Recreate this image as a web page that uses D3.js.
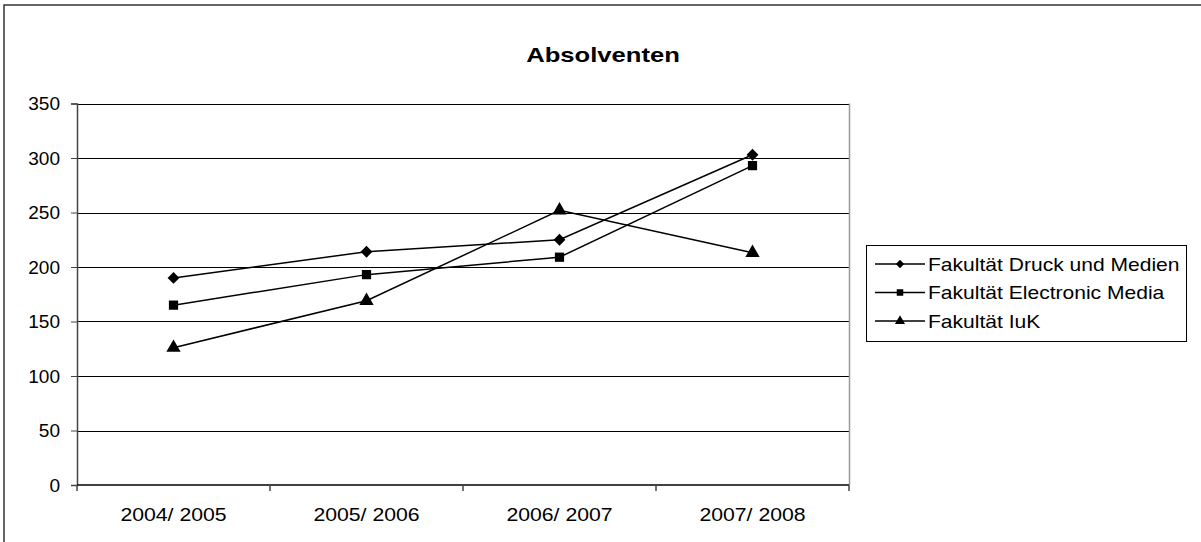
<!DOCTYPE html>
<html>
<head>
<meta charset="utf-8">
<script src="https://cdn.jsdelivr.net/npm/d3@7"></script>
<style>
  body { margin: 0; background: #fff; }
  svg text { font-family: "Liberation Sans", Arial, sans-serif; fill: #000; }
</style>
</head>
<body>
<div id="chart"></div>
<script>
const categories = ["2004/ 2005", "2005/ 2006", "2006/ 2007", "2007/ 2008"];
const seriesNames = ["Fakultät Druck und Medien", "Fakultät Electronic Media", "Fakultät IuK"];
const druck = [190, 214, 225, 303];
const electronic = [165, 193, 209, 293];
const iuk = [126, 169, 252, 213];
const yTicks = [0, 50, 100, 150, 200, 250, 300, 350];

// diamond drawn as a square turned by 45 degrees
const series = [
    { name: seriesNames[0], values: druck, symbol: d3.symbolSquare, size: 70, rot: 45 },
    { name: seriesNames[1], values: electronic, symbol: d3.symbolSquare, size: 85, rot: 0 },
    { name: seriesNames[2], values: iuk, symbol: d3.symbolTriangle, size: 88, rot: 0 }
];

const width = 1201,
    height = 542;
const plot = { left: 77, right: 849, top: 103.5, bottom: 485 };

const svg = d3.select('#chart').append('svg')
    .attr('width', width)
    .attr('height', height);

// outer frame
svg.append('rect')
    .attr('x', 4).attr('y', 5)
    .attr('width', 1200).attr('height', 545)
    .attr('fill', 'none')
    .attr('stroke', '#333')
    .attr('stroke-width', 1.5);

const x = d3.scaleBand()
    .domain(categories)
    .range([plot.left, plot.right]);

const y = d3.scaleLinear()
    .domain([0, 350])
    .range([plot.bottom, plot.top]);

// text in the picture is drawn wider than normal
function wideText(sel, px, py, sx) {
    return sel.append('text')
        .attr('transform', 'translate(' + px + ',' + py + ') scale(' + sx + ',1)');
}

// title
wideText(svg, 603, 62, 1.25)
    .attr('text-anchor', 'middle')
    .style('font-size', '20.5px')
    .style('font-weight', 'bold')
    .text('Absolventen');

// grid lines
svg.append('g')
    .selectAll('line')
    .data(yTicks.filter(d => d > 0))
    .enter()
    .append('line')
    .attr('x1', plot.left)
    .attr('x2', plot.right)
    .attr('y1', d => Math.round(y(d)) + 0.5)
    .attr('y2', d => Math.round(y(d)) + 0.5)
    .attr('stroke', '#000')
    .attr('stroke-width', 1);

// right border of plot area
svg.append('line')
    .attr('x1', plot.right + 0.5).attr('x2', plot.right + 0.5)
    .attr('y1', plot.top).attr('y2', plot.bottom)
    .attr('stroke', '#999')
    .attr('stroke-width', 1.5);

// y axis
let yAxis = svg.append('g')
    .attr('transform', 'translate(' + plot.left + ',0)')
    .call(d3.axisLeft(y).tickValues(yTicks).tickSize(6).tickFormat(''));
yAxis.select('.domain').attr('stroke', '#444').attr('stroke-width', 1.5);
yAxis.selectAll('.tick line').attr('stroke', '#444');
yTicks.forEach(t => {
    wideText(svg, 60, y(t) + 6.5, 1.06)
        .attr('text-anchor', 'end')
        .style('font-size', '18px')
        .text(t);
});

// x axis with ticks between categories
let xAxis = svg.append('g')
    .attr('transform', 'translate(0,' + plot.bottom + ')');
xAxis.append('line')
    .attr('x1', plot.left).attr('x2', plot.right)
    .attr('stroke', '#000').attr('stroke-width', 1.5);
xAxis.selectAll('line.tk')
    .data(categories.concat(['end']))
    .enter()
    .append('line')
    .attr('class', 'tk')
    .attr('x1', (d, i) => plot.left + i * x.bandwidth())
    .attr('x2', (d, i) => plot.left + i * x.bandwidth())
    .attr('y1', 0).attr('y2', 6)
    .attr('stroke', '#444').attr('stroke-width', 1.5);
categories.forEach(c => {
    wideText(xAxis, x(c) + x.bandwidth() / 2, 35.5, 1.18)
        .attr('text-anchor', 'middle')
        .style('font-size', '18px')
        .text(c);
});

// lines
const line = d3.line()
    .x((d, i) => x(categories[i]) + x.bandwidth() / 2)
    .y(d => y(d));

svg.append('g')
    .selectAll('path')
    .data(series)
    .enter()
    .append('path')
    .attr('d', s => line(s.values))
    .attr('fill', 'none')
    .attr('stroke', '#000')
    .attr('stroke-width', 1.5);

// markers
series.forEach(s => {
    svg.append('g')
        .selectAll('path')
        .data(s.values)
        .enter()
        .append('path')
        .attr('transform', (d, i) => 'translate(' + (x(categories[i]) + x.bandwidth() / 2) + ',' + y(d) + ') rotate(' + s.rot + ')')
        .attr('d', d3.symbol().type(s.symbol).size(s.size))
        .attr('fill', '#000');
});

// legend
let legend = svg.append('g')
    .attr('transform', 'translate(866,245)');
legend.append('rect')
    .attr('x', 0.5).attr('y', 0.5)
    .attr('width', 320).attr('height', 96)
    .attr('fill', '#fff')
    .attr('stroke', '#000')
    .attr('stroke-width', 1);

let items = legend.selectAll('g.item')
    .data(series)
    .enter()
    .append('g')
    .attr('class', 'item')
    .attr('transform', (d, i) => 'translate(0,' + (19 + i * 28.5) + ')');
items.append('line')
    .attr('x1', 9).attr('x2', 59)
    .attr('stroke', '#000').attr('stroke-width', 1.5);
items.append('path')
    .attr('transform', s => 'translate(34,0) rotate(' + s.rot + ')')
    .attr('d', s => d3.symbol().type(s.symbol).size(s.size * 0.5)())
    .attr('fill', '#000');
items.each(function (s) {
    wideText(d3.select(this), 62, 6.5, 1.17)
        .style('font-size', '18px')
        .text(s.name);
});
</script>
</body>
</html>
